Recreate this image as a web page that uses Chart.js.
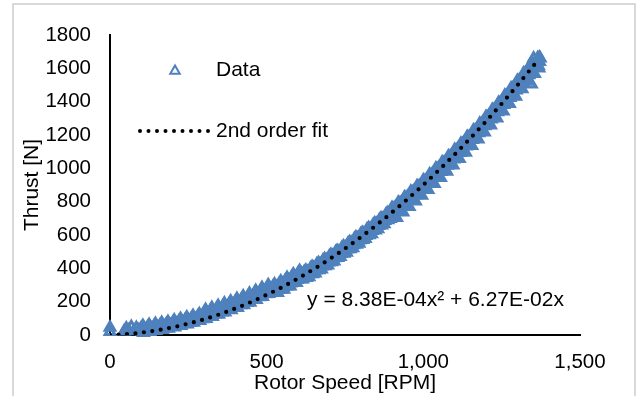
<!DOCTYPE html>
<html>
<head>
<meta charset="utf-8">
<script src="https://cdn.jsdelivr.net/npm/chart.js@4.4.1/dist/chart.umd.min.js"></script>
<style>
  html, body { margin: 0; padding: 0; background: #fff; }
  #wrap { width: 637px; height: 396px; }
</style>
</head>
<body>
<div id="wrap"><canvas id="thrust-scatter" width="637" height="396"></canvas></div>
<script>
// spin-up samples near zero speed
const speedStart = [0, 0, 45, 52, 60, 68, 76, 84, 92];
const thrustStart = [20, 45, 22, 40, 28, 50, 24, 44, 30];

// eight passes of the sweep
const speedRunA = [100, 120, 140, 160, 180, 200, 220, 240, 260, 280,
  300, 320, 340, 360, 380, 400, 420, 440, 460, 480,
  500, 520, 540, 560, 580, 600, 620, 640, 660, 680,
  700, 720, 740, 760, 780, 800, 820, 840, 860, 880,
  900, 920, 940, 960, 980, 1000, 1020, 1040, 1060, 1080,
  1100, 1120, 1140, 1160, 1180, 1200, 1220, 1240, 1260, 1280,
  1300, 1320, 1340, 1360];
const thrustRunA = [43, 48, 53, 60, 66, 74, 82, 91, 101, 111,
  134, 146, 158, 171, 185, 199, 214, 230, 246, 263,
  281, 289, 308, 328, 348, 369, 379, 401, 424, 448,
  473, 498, 523, 550, 577, 605, 633, 662, 692, 722,
  763, 795, 827, 861, 894, 929, 964, 1000, 1036, 1073,
  1111, 1149, 1189, 1228, 1269, 1310, 1352, 1394, 1437, 1481,
  1526, 1571, 1617, 1640];

const speedRunB = [107, 127, 147, 167, 187, 207, 227, 247, 267, 287,
  307, 327, 347, 367, 387, 407, 427, 447, 467, 487,
  507, 527, 547, 567, 587, 607, 627, 647, 667, 687,
  707, 727, 747, 767, 787, 807, 827, 847, 867, 887,
  907, 927, 947, 967, 987, 1007, 1027, 1047, 1067, 1087,
  1107, 1127, 1147, 1167, 1187, 1207, 1227, 1247, 1267, 1287,
  1307, 1327, 1347, 1367];
const thrustRunB = [14, 19, 25, 32, 39, 47, 55, 65, 75, 85,
  98, 110, 123, 136, 150, 164, 180, 195, 212, 229,
  247, 254, 273, 293, 314, 335, 344, 366, 390, 414,
  438, 464, 489, 516, 543, 571, 600, 629, 659, 690,
  711, 743, 776, 809, 843, 878, 913, 949, 986, 1023,
  1061, 1100, 1139, 1179, 1220, 1262, 1304, 1346, 1390, 1434,
  1478, 1524, 1570, 1616];

const speedRunC = [113, 133, 153, 173, 193, 213, 233, 253, 273, 293,
  313, 333, 353, 373, 393, 413, 433, 453, 473, 493,
  513, 533, 553, 573, 593, 613, 633, 653, 673, 693,
  713, 733, 753, 773, 793, 813, 833, 853, 873, 893,
  913, 933, 953, 973, 993, 1013, 1033, 1053, 1073, 1093,
  1113, 1133, 1153, 1173, 1193, 1213, 1233, 1253, 1273, 1293,
  1313, 1333, 1353, 1373];
const thrustRunC = [32, 37, 43, 50, 57, 65, 74, 83, 94, 104,
  122, 134, 146, 160, 174, 189, 204, 220, 237, 255,
  273, 281, 301, 321, 342, 363, 375, 398, 422, 446,
  471, 496, 522, 549, 577, 605, 634, 663, 693, 724,
  753, 785, 818, 851, 885, 920, 956, 992, 1029, 1067,
  1105, 1144, 1183, 1223, 1264, 1306, 1348, 1391, 1435, 1479,
  1524, 1570, 1616, 1660];

const speedRunD = [103, 123, 143, 163, 183, 203, 223, 243, 263, 283,
  303, 323, 343, 363, 383, 403, 423, 443, 463, 483,
  503, 523, 543, 563, 583, 603, 623, 643, 663, 683,
  703, 723, 743, 763, 783, 803, 823, 843, 863, 883,
  903, 923, 943, 963, 983, 1003, 1023, 1043, 1063, 1083,
  1103, 1123, 1143, 1163, 1183, 1203, 1223, 1243, 1263, 1283,
  1303, 1323, 1343, 1363];
const thrustRunD = [23, 28, 34, 41, 48, 55, 64, 73, 82, 93,
  108, 120, 132, 145, 159, 173, 189, 204, 221, 238,
  256, 262, 281, 301, 321, 343, 354, 377, 400, 424,
  448, 473, 499, 526, 553, 581, 609, 638, 668, 699,
  722, 754, 786, 820, 853, 888, 923, 959, 996, 1033,
  1071, 1109, 1148, 1188, 1229, 1270, 1312, 1355, 1398, 1442,
  1486, 1532, 1578, 1624];

const speedRunE = [110, 130, 150, 170, 190, 210, 230, 250, 270, 290,
  310, 330, 350, 370, 390, 410, 430, 450, 470, 490,
  510, 530, 550, 570, 590, 610, 630, 650, 670, 690,
  710, 730, 750, 770, 790, 810, 830, 850, 870, 890,
  910, 930, 950, 970, 990, 1010, 1030, 1050, 1070, 1090,
  1110, 1130, 1150, 1170, 1190, 1210, 1230, 1250, 1270, 1290,
  1310, 1330, 1350, 1370];
const thrustRunE = [37, 42, 48, 55, 62, 70, 79, 88, 98, 109,
  130, 142, 155, 168, 182, 197, 212, 228, 245, 262,
  280, 289, 308, 328, 349, 370, 380, 403, 426, 450,
  475, 500, 526, 553, 580, 609, 637, 667, 697, 728,
  765, 797, 830, 863, 897, 932, 968, 1004, 1040, 1078,
  1116, 1155, 1194, 1234, 1275, 1317, 1359, 1402, 1445, 1489,
  1534, 1580, 1626, 1665];

const speedRunF = [117, 137, 157, 177, 197, 217, 237, 257, 277, 297,
  317, 337, 357, 377, 397, 417, 437, 457, 477, 497,
  517, 537, 557, 577, 597, 617, 637, 657, 677, 697,
  717, 737, 757, 777, 797, 817, 837, 857, 877, 897,
  917, 937, 957, 977, 997, 1017, 1037, 1057, 1077, 1097,
  1117, 1137, 1157, 1177, 1197, 1217, 1237, 1257, 1277, 1297,
  1317, 1337, 1357, 1371];
const thrustRunF = [23, 28, 34, 41, 49, 57, 66, 75, 86, 96,
  112, 124, 137, 151, 165, 180, 195, 211, 228, 246,
  264, 271, 291, 311, 332, 354, 366, 389, 412, 437,
  462, 487, 514, 540, 568, 596, 625, 655, 685, 716,
  740, 772, 805, 839, 873, 908, 944, 980, 1017, 1055,
  1093, 1132, 1172, 1212, 1254, 1295, 1338, 1381, 1424, 1469,
  1514, 1560, 1606, 1639];

const speedRunG = [105, 125, 145, 165, 185, 205, 225, 245, 265, 285,
  305, 325, 345, 365, 385, 405, 425, 445, 465, 485,
  505, 525, 545, 565, 585, 605, 625, 645, 665, 685,
  705, 725, 745, 765, 785, 805, 825, 845, 865, 885,
  905, 925, 945, 965, 985, 1005, 1025, 1045, 1065, 1085,
  1105, 1125, 1145, 1165, 1185, 1205, 1225, 1245, 1265, 1285,
  1305, 1325, 1345, 1365];
const thrustRunG = [56, 61, 67, 73, 80, 88, 97, 106, 116, 126,
  152, 164, 176, 190, 203, 218, 233, 249, 265, 283,
  300, 304, 323, 343, 364, 385, 387, 409, 432, 456,
  481, 506, 532, 558, 586, 614, 642, 671, 701, 732,
  758, 790, 823, 856, 890, 924, 960, 996, 1032, 1070,
  1108, 1146, 1185, 1225, 1266, 1307, 1349, 1392, 1435, 1479,
  1524, 1569, 1615, 1662];

const speedRunH = [115, 135, 155, 175, 195, 215, 235, 255, 275, 295,
  315, 335, 355, 375, 395, 415, 435, 455, 475, 495,
  515, 535, 555, 575, 595, 615, 635, 655, 675, 695,
  715, 735, 755, 775, 795, 815, 835, 855, 875, 895,
  915, 935, 955, 975, 995, 1015, 1035, 1055, 1075, 1095,
  1115, 1135, 1155, 1175, 1195, 1215, 1235, 1255, 1275, 1295,
  1315, 1335, 1355, 1369];
const thrustRunH = [28, 34, 40, 47, 54, 62, 71, 80, 91, 101,
  118, 130, 143, 156, 170, 185, 201, 217, 234, 251,
  269, 253, 273, 293, 314, 335, 348, 370, 394, 418,
  443, 469, 495, 522, 549, 578, 606, 636, 666, 697,
  704, 736, 769, 803, 837, 872, 907, 944, 981, 1018,
  1057, 1095, 1135, 1175, 1216, 1258, 1300, 1343, 1387, 1431,
  1476, 1522, 1568, 1601];

const speedOutliers = [1345, 1352];
const thrustOutliers = [1505, 1660];

// 2nd order trendline as drawn
const fitSpeed = [0, 50, 100, 150, 200, 250, 300, 350, 400, 450, 500, 550, 600, 650,
  700, 750, 800, 850, 900, 950, 1000, 1050, 1100, 1150, 1200, 1250, 1300, 1350, 1360];
const fitThrust = [0, 5.2, 14.7, 28.3, 46.1, 68.1, 94.2, 124.6, 159.2, 197.9, 240.9, 288.0, 339.3, 394.8,
  454.5, 518.4, 586.5, 658.8, 735.2, 815.9, 900.7, 989.7, 1083.0, 1180.4, 1282.0, 1387.8, 1497.7, 1611.9, 1635.2];

const fitEquation = 'y = 8.38E-04x\u00b2 + 6.27E-02x';
const seriesLabels = ['Data', '2nd order fit'];

const BLUE = '#4f81bd';
const FONT = "'Liberation Sans', Arial, sans-serif";

const toPoints = (xs, ys) => xs.map((x, i) => ({ x, y: ys[i] }));

const measured = [].concat(
  toPoints(speedStart, thrustStart),
  toPoints(speedRunA, thrustRunA),
  toPoints(speedRunB, thrustRunB),
  toPoints(speedRunC, thrustRunC),
  toPoints(speedRunD, thrustRunD),
  toPoints(speedRunE, thrustRunE),
  toPoints(speedRunF, thrustRunF),
  toPoints(speedRunG, thrustRunG),
  toPoints(speedRunH, thrustRunH),
  toPoints(speedOutliers, thrustOutliers),
);

function triangle(ctx, x, y, r) {
  ctx.beginPath();
  ctx.moveTo(x, y - r);
  ctx.lineTo(x + 0.866 * r, y + 0.5 * r);
  ctx.lineTo(x - 0.866 * r, y + 0.5 * r);
  ctx.closePath();
  ctx.stroke();
}

const frame = {
  id: 'frame',
  beforeDraw(chart) {
    const { ctx, width, height } = chart;
    ctx.save();
    ctx.fillStyle = '#fff';
    ctx.fillRect(0, 0, width, height);
    ctx.strokeStyle = '#d9d9d9';
    ctx.lineWidth = 2;
    ctx.strokeRect(13, 4, 622, height + 10);
    ctx.restore();
  },
};

const equationLabel = {
  id: 'equationLabel',
  afterDatasetsDraw(chart) {
    const { ctx, scales } = chart;
    ctx.save();
    ctx.font = `21px ${FONT}`;
    ctx.fillStyle = '#000';
    ctx.textAlign = 'left';
    ctx.textBaseline = 'middle';
    ctx.fillText(fitEquation, scales.x.getPixelForValue(629), scales.y.getPixelForValue(210));
    ctx.restore();
  },
};

// Excel-style legend sitting inside the plot
const insideLegend = {
  id: 'insideLegend',
  afterDraw(chart) {
    const { ctx, chartArea } = chart;
    const left = chartArea.left;
    ctx.save();
    ctx.font = `21px ${FONT}`;
    ctx.fillStyle = '#000';
    ctx.textAlign = 'left';
    ctx.textBaseline = 'middle';

    ctx.strokeStyle = BLUE;
    ctx.lineWidth = 2;
    triangle(ctx, left + 65, 71, 5.5);
    ctx.fillText(seriesLabels[0], left + 106, 70);

    ctx.strokeStyle = '#000';
    ctx.lineWidth = 4;
    ctx.lineCap = 'round';
    ctx.setLineDash([0, 8.5]);
    ctx.beginPath();
    ctx.moveTo(left + 30, 131);
    ctx.lineTo(left + 99, 131);
    ctx.stroke();
    ctx.setLineDash([]);
    ctx.fillText(seriesLabels[1], left + 106, 131);
    ctx.restore();
  },
};

new Chart(document.getElementById('thrust-scatter'), {
  type: 'scatter',
  data: {
    datasets: [
      {
        label: seriesLabels[1],
        type: 'line',
        data: toPoints(fitSpeed, fitThrust),
        borderColor: '#000',
        borderWidth: 4.2,
        borderDash: [0, 8.5],
        borderCapStyle: 'round',
        cubicInterpolationMode: 'monotone',
        pointRadius: 0,
        fill: false,
        order: 1,
      },
      {
        label: seriesLabels[0],
        data: measured,
        showLine: false,
        pointStyle: 'triangle',
        pointRadius: 5.5,
        borderColor: BLUE,
        backgroundColor: 'rgba(0,0,0,0)',
        pointBorderWidth: 3,
        clip: false,
        order: 2,
      },
    ],
  },
  options: {
    responsive: false,
    animation: false,
    devicePixelRatio: 1,
    events: [],
    layout: {
      padding: { left: 0, top: 35, right: 57, bottom: 0 },
    },
    plugins: {
      legend: { display: false },
      tooltip: { enabled: false },
    },
    scales: {
      x: {
        type: 'linear',
        min: 0,
        max: 1500,
        afterFit(scale) {
          scale.height = 61;
        },
        grid: { display: false, drawTicks: false },
        border: { display: true, color: '#000', width: 2 },
        ticks: {
          stepSize: 500,
          padding: 15,
          color: '#000',
          font: { family: FONT, size: 20.5 },
          maxRotation: 0,
          callback(value) {
            return value.toLocaleString('en-US');
          },
        },
        title: {
          display: true,
          text: 'Rotor Speed [RPM]',
          color: '#000',
          font: { family: FONT, size: 21 },
          padding: { top: 0, bottom: 0 },
        },
      },
      y: {
        type: 'linear',
        min: 0,
        max: 1800,
        afterFit(scale) {
          scale.width = 110;
        },
        grid: { display: false, drawTicks: false },
        border: { display: true, color: '#000', width: 2 },
        ticks: {
          stepSize: 200,
          padding: 19,
          color: '#000',
          font: { family: FONT, size: 20.5 },
          callback(value) {
            return String(value);
          },
        },
        title: {
          display: true,
          text: 'Thrust [N]',
          color: '#000',
          font: { family: FONT, size: 21 },
          padding: { top: 20, bottom: 0 },
        },
      },
    },
  },
  plugins: [frame, equationLabel, insideLegend],
});
</script>
</body>
</html>
